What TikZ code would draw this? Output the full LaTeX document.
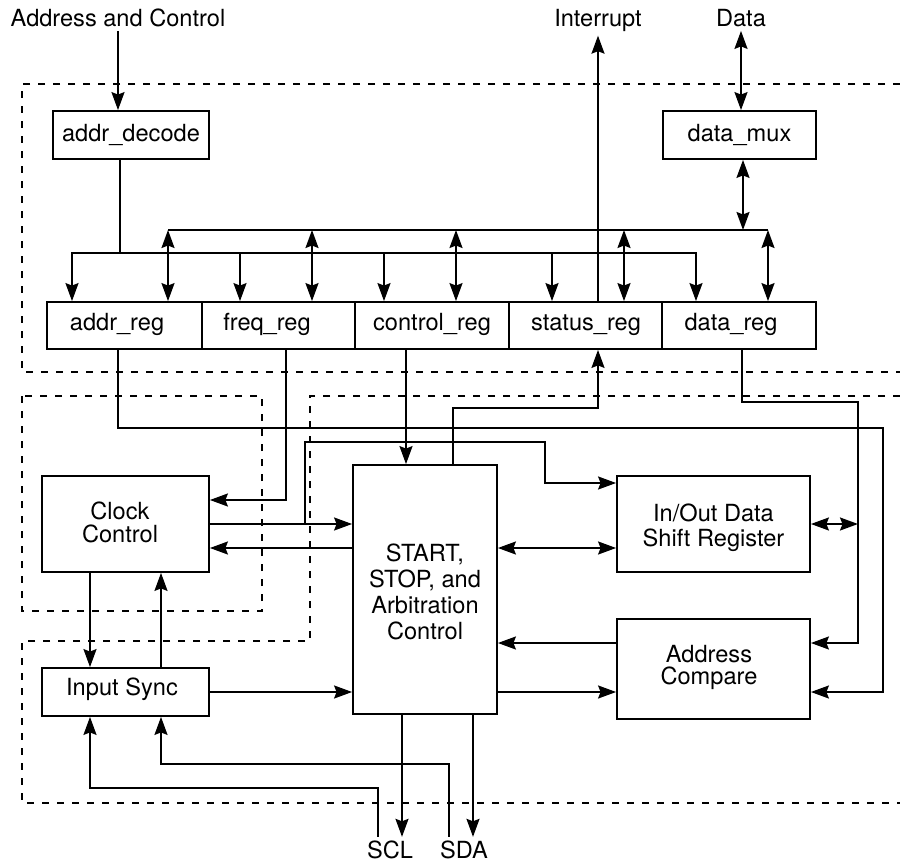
\documentclass[tikz,border=0pt]{standalone}
\usepackage{fontspec}
\setmainfont{TeX Gyre Heros}
\usetikzlibrary{arrows.meta}
\tikzset{
  box/.style={draw, line width=1.8pt, inner sep=0pt},
  conn/.style={line width=1.8pt},
  tip/.style={},
  arr/.style={conn, -{Stealth[length=18pt,width=13pt,inset=2.5pt]}},
  dbl/.style={conn, {Stealth[length=18pt,width=13pt,inset=2.5pt]}-{Stealth[length=18pt,width=13pt,inset=2.5pt]}},
  dashline/.style={line width=1.6pt, dash pattern=on 7pt off 8pt},
  lbl/.style={anchor=base},
  mlbl/.style={align=center, anchor=center, inner sep=0pt},
}
\begin{document}
\begin{tikzpicture}[x=1pt,y=-1pt, font=\fontsize{23.6}{25}\selectfont]
\useasboundingbox (0,0) rectangle (900,862);

% dashed regions
\draw[dashline] (900,84) -- (22,84) -- (22,372) -- (900,372);
\draw[dashline] (22,396) rectangle (262,611);
\draw[dashline] (900,396) -- (310,396) -- (310,641) -- (22,641) -- (22,803) -- (900,803);

% outer labels
\node[lbl] (labAC) at (118,27) {Address and Control};
\node[lbl] (labInt) at (598,27) {Interrupt};
\node[lbl] (labData) at (741,27) {Data};
\node[lbl] (labSCL) at (390,858) {SCL};
\node[lbl] (labSDA) at (464,858) {SDA};

% top boxes
\node[box, minimum width=156pt, minimum height=48pt] (addrdec) at (131,135) {};
\node[lbl] (taddrdec) at (131,141) {addr\_decode};
\node[box, minimum width=153pt, minimum height=48pt] (datamux) at (739.5,135) {};
\node[lbl] (tdatamux) at (739.5,141.5) {data\_mux};

% registers
\node[box, minimum width=155pt, minimum height=47pt] (addrreg) at (124.5,325.5) {};
\node[box, minimum width=153pt, minimum height=47pt] (freqreg) at (278.5,325.5) {};
\node[box, minimum width=154pt, minimum height=47pt] (ctrlreg) at (432,325.5) {};
\node[box, minimum width=153pt, minimum height=47pt] (statreg) at (585.5,325.5) {};
\node[box, minimum width=154pt, minimum height=47pt] (datareg) at (739,325.5) {};
\node[lbl] (taddrreg) at (117,330) {addr\_reg};
\node[lbl] (tfreqreg) at (267,330) {freq\_reg};
\node[lbl] (tctrlreg) at (432,330) {control\_reg};
\node[lbl] (tstatreg) at (586,330) {status\_reg};
\node[lbl] (tdatareg) at (731,330) {data\_reg};

% lower boxes
\node[box, minimum width=167pt, minimum height=96pt] (clock) at (125.5,524) {};
\node[mlbl, font=\fontsize{23.6}{23.5}\selectfont] (tclock) at (120,522.5) {Clock\\Control};
\node[box, minimum width=144pt, minimum height=249pt] (start) at (425,589.5) {};
\node[mlbl, font=\fontsize{23.6}{26}\selectfont] (tstart) at (425,591.5) {START,\\STOP, and\\Arbitration\\Control};
\node[box, minimum width=193pt, minimum height=96pt] (shift) at (713.5,524) {};
\node[mlbl, font=\fontsize{23.6}{25}\selectfont] (tshift) at (713.5,528.2) {In/Out Data\\Shift Register};
\node[box, minimum width=193pt, minimum height=100pt] (addrcmp) at (713.5,669) {};
\node[mlbl, font=\fontsize{23.6}{22.3}\selectfont] (taddrcmp) at (709,667.8) {Address\\Compare};
\node[box, minimum width=167pt, minimum height=48pt] (insync) at (125.5,692) {};
\node[lbl] (tinsync) at (122,695) {Input Sync};

% top connections
\draw[arr] (labAC.south) -- (labAC.south |- addrdec.north);
\draw[dbl] (labData.south) -- (labData.south |- datamux.north);
\draw[arr] (statreg.north -| labInt.south) -- (labInt.south);

% address bus
\draw[conn] (addrdec.south -| 120,0) -- (120,253);
\draw[arr] (120,253) -| (addrreg.north -| 72,0);
\draw[arr] (120,253) -| (datareg.north -| 696,0);
\draw[arr] (240,253) -- (freqreg.north -| 240,0);
\draw[arr] (384,253) -- (ctrlreg.north -| 384,0);
\draw[arr] (552,253) -- (statreg.north -| 552,0);

% data bus
\draw[conn] (168,230) -- (768,230);
\draw[dbl] (datamux.south -| 743,0) -- (743,230);
\draw[dbl] (168,230) -- (addrreg.north -| 168,0);
\draw[dbl] (312,230) -- (freqreg.north -| 312,0);
\draw[dbl] (456,230) -- (ctrlreg.north -| 456,0);
\draw[dbl] (624,230) -- (statreg.north -| 624,0);
\draw[dbl] (768,230) -- (datareg.north -| 768,0);

% register to lower blocks
\draw[arr] (addrreg.south -| 118,0) |- (883,428) |- (addrcmp.east |- 0,692);
\draw[arr] (freqreg.south -| 286,0) |- (clock.east |- 0,500);
\draw[arr] (ctrlreg.south -| 406,0) -- (start.north -| 406,0);
\draw[arr] (start.north -| 453,0) |- (598,408) -- (statreg.south -| 598,0);
\draw[arr] (datareg.south -| 742,0) |- (858,402) |- (addrcmp.east |- 0,643);
\draw[dbl] (shift.east) -- (858,524);

% internal
\draw[arr] (clock.east) -- (start.west |- clock.east);
\draw[arr] (305,524) |- (545,442) |- (shift.west |- 0,483);
\draw[arr] (start.west |- 0,548) -- (clock.east |- 0,548);
\draw[dbl] (start.east |- 0,548) -- (shift.west |- 0,548);
\draw[arr] (addrcmp.west |- 0,643) -- (start.east |- 0,643);
\draw[arr] (start.east |- 0,692) -- (addrcmp.west |- 0,692);
\draw[arr] (insync.east) -- (start.west |- insync.east);
\draw[arr] (clock.south -| 90,0) -- (insync.north -| 90,0);
\draw[arr] (insync.north -| 161,0) -- (clock.south -| 161,0);

% SCL / SDA
\draw[arr] (labSCL.north -| 378,0) |- (90,788) -- (insync.south -| 90,0);
\draw[arr] (labSDA.north -| 449,0) |- (161,764) -- (insync.south -| 161,0);
\draw[arr] (start.south -| 402,0) -- (labSCL.north -| 402,0);
\draw[arr] (start.south -| 473,0) -- (labSDA.north -| 473,0);
\end{tikzpicture}
\end{document}
